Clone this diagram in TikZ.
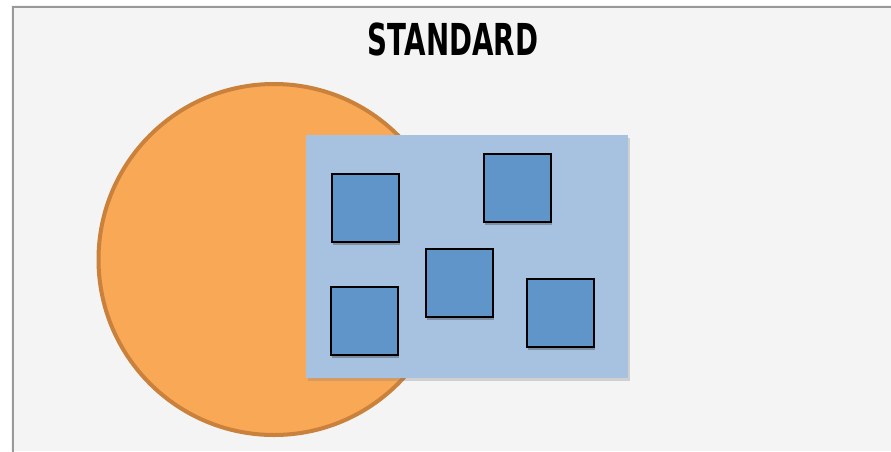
\documentclass[tikz,border=0pt]{standalone}
\usepackage{fontspec}
\newfontfamily\titlefont{DejaVu Sans}
\usetikzlibrary{shadows}
\definecolor{bgc}{HTML}{F4F4F4}
\definecolor{framec}{HTML}{999999}
\definecolor{orangef}{HTML}{F9A856}
\definecolor{oranged}{HTML}{C9813C}
\definecolor{panelc}{HTML}{A7C1E1}
\definecolor{boxc}{HTML}{5F95C8}
\tikzset{
  sq/.style={draw=black, line width=2.2pt, fill=boxc, minimum width=67pt, minimum height=68pt, inner sep=0pt, anchor=north west,
    drop shadow={shadow xshift=1pt, shadow yshift=-3pt, opacity=0.35, fill=black!80}},
  panel/.style={fill=panelc, draw=none, minimum width=322pt, minimum height=243pt, inner sep=0pt, anchor=north west,
    drop shadow={shadow xshift=1.5pt, shadow yshift=-2.5pt, opacity=0.3}},
}
\begin{document}
\begin{tikzpicture}[x=1pt,y=-1pt]
\useasboundingbox (0,0) rectangle (891,451);
\fill[bgc] (0,0) rectangle (891,451);
\fill[white] (0,0) rectangle (891,5);
\fill[white] (0,0) rectangle (11,451);
\draw[framec, line width=2pt] (13,460) |- (900,7);
\node[circle, draw=oranged, line width=4pt, fill=orangef, minimum size=351pt, inner sep=0pt] (circ) at (274,259.5) {};
\node[panel] (pan) at (306,135) {};
\node[sq] (s1) at (331,173) {};
\node[sq] (s2) at (483,153) {};
\node[sq] (s3) at (425,248) {};
\node[sq] (s4) at (330,286) {};
\node[sq] (s5) at (526,278) {};
\node[font=\titlefont\bfseries\fontsize{44}{46}\selectfont, xscale=0.63, inner sep=0pt] (title) at (453,39) {STANDARD};
\end{tikzpicture}
\end{document}
